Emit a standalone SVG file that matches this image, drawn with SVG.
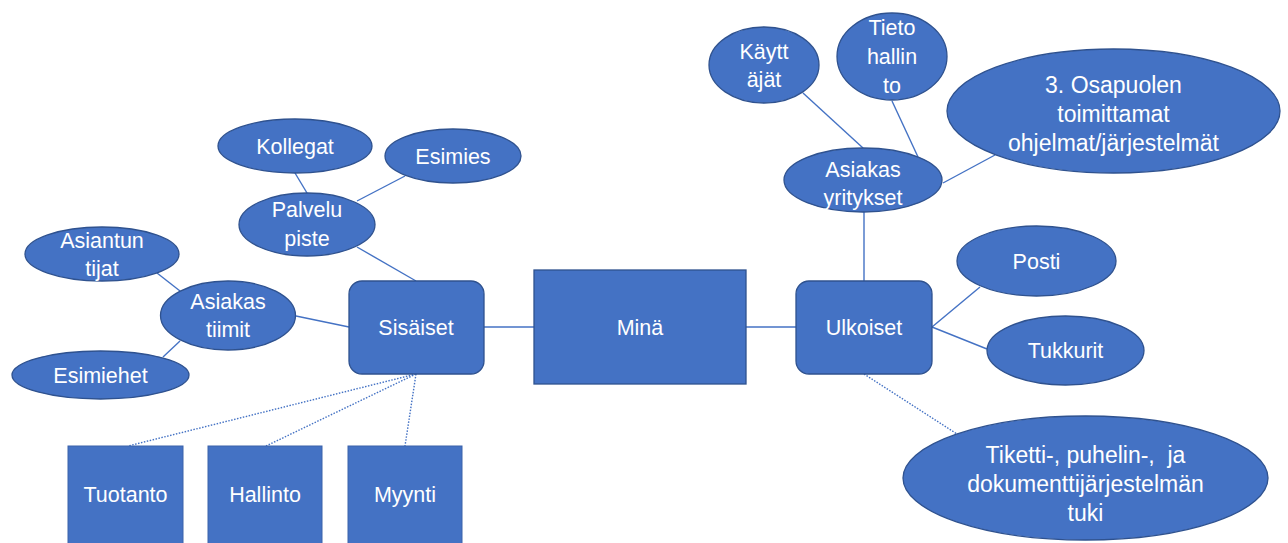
<svg xmlns="http://www.w3.org/2000/svg" width="1288" height="543" viewBox="0 0 1288 543">
<style>
.n{fill:#4472C4;stroke:#2F528F;stroke-width:1.3}
.b{fill:#4472C4;stroke:#3A62AA;stroke-width:1}
.t{fill:#FFFFFF;font-family:"Liberation Sans",Arial,sans-serif;font-size:21.5px;text-anchor:middle;dominant-baseline:central}
.L{font-size:23px}
.c{stroke:#4472C4;stroke-width:1.4;fill:none}
.d{stroke:#4472C4;stroke-width:1.4;fill:none;stroke-dasharray:1.5 1.5}
</style>
<rect width="1288" height="543" fill="#FFFFFF"/>
<g id="connectors">
<line class="c" x1="484" y1="327" x2="534" y2="327"/>
<line class="c" x1="746" y1="327" x2="796" y2="327"/>
<line class="c" x1="296" y1="316" x2="349" y2="327"/>
<line class="c" x1="157" y1="273" x2="180" y2="291"/>
<line class="c" x1="163" y1="357" x2="180" y2="341"/>
<line class="c" x1="357" y1="247" x2="416" y2="281"/>
<line class="c" x1="295" y1="173" x2="307" y2="193"/>
<line class="c" x1="405" y1="176" x2="357" y2="201"/>
<line class="d" x1="416" y1="374" x2="128" y2="446"/>
<line class="d" x1="416" y1="374" x2="266" y2="446"/>
<line class="d" x1="416" y1="374" x2="405" y2="446"/>
<line class="c" x1="803" y1="93" x2="863" y2="148"/>
<line class="c" x1="892" y1="101" x2="918" y2="157"/>
<line class="c" x1="943" y1="183" x2="995" y2="155"/>
<line class="c" x1="864" y1="212" x2="864" y2="281"/>
<line class="c" x1="932" y1="327" x2="980" y2="287"/>
<line class="c" x1="932" y1="327" x2="987" y2="349"/>
<line class="d" x1="864" y1="374" x2="957" y2="434"/>
</g>
<g id="mina"><rect class="n" x="534" y="270" width="212" height="114"/><text class="t" x="640" y="328">Minä</text></g>
<g id="sisaiset"><rect class="n" x="349" y="281" width="135" height="93" rx="13"/><text class="t" x="416" y="328">Sisäiset</text></g>
<g id="ulkoiset"><rect class="n" x="796" y="281" width="136" height="93" rx="13"/><text class="t" x="864" y="328">Ulkoiset</text></g>
<g id="asiakastiimit"><ellipse class="n" cx="228" cy="315.5" rx="67.5" ry="34.5"/><text class="t" x="228" y="302">Asiakas</text><text class="t" x="228" y="330">tiimit</text></g>
<g id="asiantuntijat"><ellipse class="n" cx="102" cy="254" rx="77" ry="27"/><text class="t" x="102" y="241">Asiantun</text><text class="t" x="102" y="269">tijat</text></g>
<g id="esimiehet"><ellipse class="n" cx="100.5" cy="375" rx="88.5" ry="24"/><text class="t" x="100.5" y="376">Esimiehet</text></g>
<g id="palvelupiste"><ellipse class="n" cx="307" cy="224.5" rx="68" ry="31.5"/><text class="t" x="307" y="210">Palvelu</text><text class="t" x="307" y="239">piste</text></g>
<g id="kollegat"><ellipse class="n" cx="295" cy="146" rx="77" ry="27"/><text class="t" x="295" y="147">Kollegat</text></g>
<g id="esimies"><ellipse class="n" cx="453" cy="156" rx="68" ry="27"/><text class="t" x="453" y="157">Esimies</text></g>
<g id="tuotanto"><rect class="b" x="68" y="446" width="115" height="100"/><text class="t" x="125.5" y="495">Tuotanto</text></g>
<g id="hallinto"><rect class="b" x="208" y="446" width="114" height="100"/><text class="t" x="265" y="495">Hallinto</text></g>
<g id="myynti"><rect class="b" x="348" y="446" width="114" height="100"/><text class="t" x="405" y="495">Myynti</text></g>
<g id="asiakasyritykset"><ellipse class="n" cx="863" cy="180" rx="79" ry="32"/><text class="t" x="863" y="170">Asiakas</text><text class="t" x="863" y="198">yritykset</text></g>
<g id="kayttajat"><ellipse class="n" cx="764" cy="65" rx="55" ry="38"/><text class="t" x="764" y="52">Käytt</text><text class="t" x="764" y="80">äjät</text></g>
<g id="tietohallinto"><ellipse class="n" cx="892" cy="56.5" rx="55" ry="43.5"/><text class="t" x="892" y="28">Tieto</text><text class="t" x="892" y="57">hallin</text><text class="t" x="892" y="86">to</text></g>
<g id="osapuolen"><ellipse class="n" cx="1113.5" cy="111" rx="166.5" ry="62"/><text class="t L" x="1113.5" y="85">3. Osapuolen</text><text class="t L" x="1113.5" y="114">toimittamat</text><text class="t L" x="1113.5" y="143">ohjelmat/järjestelmät</text></g>
<g id="posti"><ellipse class="n" cx="1036.5" cy="261" rx="79.5" ry="35"/><text class="t" x="1036.5" y="262">Posti</text></g>
<g id="tukkurit"><ellipse class="n" cx="1065.5" cy="350.5" rx="78.5" ry="34.5"/><text class="t" x="1065.5" y="351">Tukkurit</text></g>
<g id="tiketti"><ellipse class="n" cx="1085.5" cy="478" rx="182.5" ry="62"/><text class="t L" x="1085.5" y="455" xml:space="preserve">Tiketti-, puhelin-,  ja</text><text class="t L" x="1085.5" y="484">dokumenttijärjestelmän</text><text class="t L" x="1085.5" y="513">tuki</text></g>
</svg>
